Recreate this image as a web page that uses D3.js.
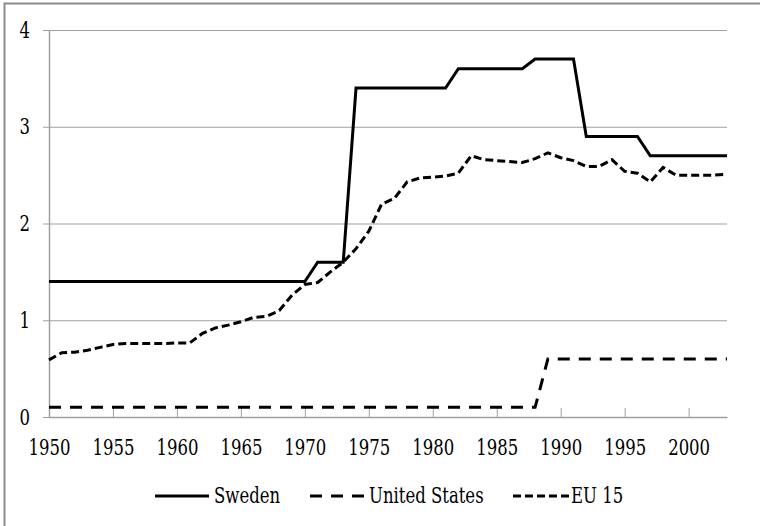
<!DOCTYPE html>
<html lang="en">
<head>
  <meta charset="UTF-8">
  <title>Sweden, United States, EU 15</title>
  <script src="https://d3js.org/d3.v7.min.js"></script>
  <style>
    body { margin: 0; background: #fff; }
    svg text {
      font-family: "DejaVu Serif", serif;
      font-size: 22px;
      fill: #000;
      transform-box: fill-box;
      transform-origin: center;
      transform: scaleX(0.75);
    }
    svg .y-axis text { transform-origin: right center; }
    svg .legend text { transform-origin: left center; }
  </style>
</head>
<body>
  <script>
    const years = [
      1950, 1951, 1952, 1953, 1954, 1955, 1956, 1957, 1958, 1959,
      1960, 1961, 1962, 1963, 1964, 1965, 1966, 1967, 1968, 1969,
      1970, 1971, 1972, 1973, 1974, 1975, 1976, 1977, 1978, 1979,
      1980, 1981, 1982, 1983, 1984, 1985, 1986, 1987, 1988, 1989,
      1990, 1991, 1992, 1993, 1994, 1995, 1996, 1997, 1998, 1999,
      2000, 2001, 2002, 2003
    ];
    const sweden = [
      1.4, 1.4, 1.4, 1.4, 1.4, 1.4, 1.4, 1.4, 1.4, 1.4,
      1.4, 1.4, 1.4, 1.4, 1.4, 1.4, 1.4, 1.4, 1.4, 1.4,
      1.4, 1.6, 1.6, 1.6, 3.4, 3.4, 3.4, 3.4, 3.4, 3.4,
      3.4, 3.4, 3.6, 3.6, 3.6, 3.6, 3.6, 3.6, 3.7, 3.7,
      3.7, 3.7, 2.9, 2.9, 2.9, 2.9, 2.9, 2.7, 2.7, 2.7,
      2.7, 2.7, 2.7, 2.7
    ];
    const unitedStates = [
      0.1, 0.1, 0.1, 0.1, 0.1, 0.1, 0.1, 0.1, 0.1, 0.1,
      0.1, 0.1, 0.1, 0.1, 0.1, 0.1, 0.1, 0.1, 0.1, 0.1,
      0.1, 0.1, 0.1, 0.1, 0.1, 0.1, 0.1, 0.1, 0.1, 0.1,
      0.1, 0.1, 0.1, 0.1, 0.1, 0.1, 0.1, 0.1, 0.1, 0.6,
      0.6, 0.6, 0.6, 0.6, 0.6, 0.6, 0.6, 0.6, 0.6, 0.6,
      0.6, 0.6, 0.6, 0.6
    ];
    const eu15 = [
      0.59, 0.665, 0.67, 0.69, 0.72, 0.75, 0.76, 0.76, 0.76, 0.76,
      0.765, 0.765, 0.865, 0.92, 0.95, 0.985, 1.03, 1.04, 1.1, 1.26,
      1.37, 1.39, 1.5, 1.6, 1.74, 1.92, 2.2, 2.26, 2.43, 2.47,
      2.48, 2.49, 2.52, 2.7, 2.66, 2.65, 2.64, 2.63, 2.67, 2.73,
      2.68, 2.65, 2.59, 2.59, 2.66, 2.54, 2.52, 2.43, 2.58, 2.5,
      2.5, 2.5, 2.5, 2.51
    ];
    const xTicks = [1950, 1955, 1960, 1965, 1970, 1975, 1980, 1985, 1990, 1995, 2000];
    const xTickLabels = ["1950", "1955", "1960", "1965", "1970", "1975", "1980", "1985", "1990", "1995", "2000"];
    const yTicks = [0, 1, 2, 3, 4];
    const yTickLabels = ["0", "1", "2", "3", "4"];
    const seriesNames = ["Sweden", "United States", "EU 15"];

    const width = 760, height = 526;
    const plotLeft = 49, plotRight = 727, plotTop = 30, plotBottom = 417;

    const svg = d3.select("body")
      .append("svg")
      .attr("width", width)
      .attr("height", height)
      .attr("viewBox", [0, 0, width, height]);

    // cropped frame: only the left and top edges show
    svg.append("rect")
      .attr("x", 4.5).attr("y", 3.5)
      .attr("width", 900).attr("height", 900)
      .attr("fill", "none")
      .attr("stroke", "#8c8c8c")
      .attr("stroke-width", 2);

    const x = d3.scaleLinear().domain([1950, 2003]).range([plotLeft, plotRight]);
    const y = d3.scaleLinear().domain([0, 4]).range([plotBottom, plotTop]);

    // y axis with gridlines
    const yAxis = svg.append("g")
      .attr("class", "y-axis")
      .attr("transform", `translate(${plotLeft},0)`)
      .call(d3.axisLeft(y)
        .tickValues(yTicks)
        .tickFormat((d, i) => yTickLabels[i])
        .tickSizeInner(-(plotRight - plotLeft))
        .tickSizeOuter(0)
        .tickPadding(19));
    yAxis.selectAll(".tick line")
      .attr("x1", -6)
      .attr("stroke", "#a0a0a0");

    // x axis, ticks pointing up into the plot
    const xAxis = svg.append("g")
      .attr("class", "x-axis")
      .attr("transform", `translate(0,${plotBottom})`)
      .call(d3.axisBottom(x)
        .tickValues(xTicks)
        .tickFormat((d, i) => xTickLabels[i])
        .tickSizeInner(-9)
        .tickSizeOuter(0)
        .tickPadding(22));
    xAxis.selectAll(".tick line").attr("stroke", "#a0a0a0");

    svg.selectAll(".domain")
      .attr("stroke", "#a0a0a0")
      .attr("stroke-width", 1.5);
    svg.selectAll(".tick text").attr("fill", "#000");

    const dashes = [null, "12,9", "8,4"];
    const series = [sweden, unitedStates, eu15];

    const line = d3.line()
      .x((d, i) => x(years[i]))
      .y(d => y(d));

    svg.append("g")
      .selectAll("path")
      .data(series)
      .join("path")
      .attr("d", d => line(d))
      .attr("fill", "none")
      .attr("stroke", "#000")
      .attr("stroke-width", 3)
      .attr("stroke-dasharray", (d, i) => dashes[i]);

    // legend
    const legendX = [155, 310, 513];
    const legendY = 496;
    const legend = svg.append("g")
      .attr("class", "legend")
      .selectAll("g")
      .data(seriesNames)
      .join("g")
      .attr("transform", (d, i) => `translate(${legendX[i]},${legendY})`);

    legend.append("line")
      .attr("x1", 0).attr("x2", (d, i) => i === 2 ? 57 : 54)
      .attr("stroke", "#000")
      .attr("stroke-width", 3)
      .attr("stroke-dasharray", (d, i) => dashes[i]);

    legend.append("text")
      .attr("x", (d, i) => i === 2 ? 58 : 59)
      .attr("dy", "0.34em")
      .text(d => d);
  </script>
</body>
</html>
